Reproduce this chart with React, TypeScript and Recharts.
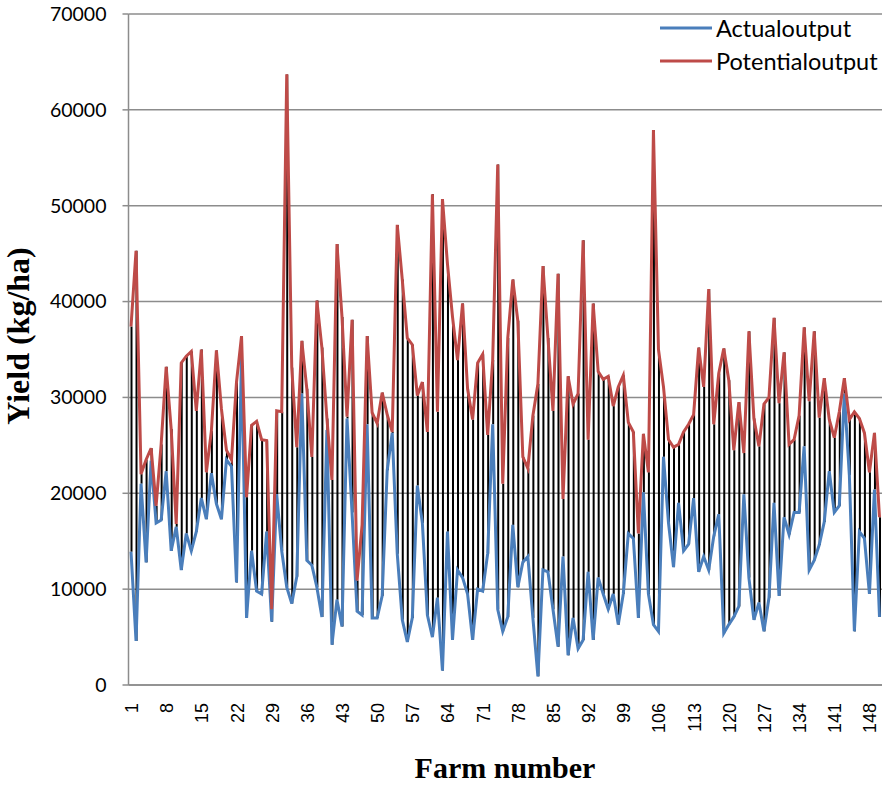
import { ComposedChart, Line, Bar, XAxis, YAxis, CartesianGrid, Legend, Label } from "recharts"

const actualOutput = [
  13900, 4600, 21000, 12800, 23400, 16900, 17200, 22300, 14000, 16500,
  12000, 15800, 14000, 16000, 19500, 17300, 22100, 18900, 17300, 23500,
  22800, 10700, 34100, 7000, 14000, 9800, 9500, 16000, 6600, 19900,
  14000, 10200, 8500, 11300, 30400, 13000, 12500, 10200, 7100, 26600,
  4200, 8900, 6100, 27800, 18000, 7700, 7300, 27200, 7000, 7000,
  9300, 22400, 26300, 13700, 6800, 4500, 7000, 20800, 16900, 7300,
  5000, 9100, 1500, 16000, 4700, 12000, 11200, 9500, 4700, 10000,
  9800, 13700, 27200, 7900, 5600, 7100, 16700, 10200, 12800, 13400,
  7000, 900, 12000, 11800, 7900, 4000, 13400, 3100, 7000, 3800,
  4700, 11800, 4700, 11200, 9500, 7900, 9500, 6300, 9500, 15800,
  15300, 7000, 20100, 9500, 6300, 5600, 23800, 16900, 12300, 19000,
  14000, 14700, 19500, 11800, 13400, 12000, 15500, 17800, 5400, 6300,
  7100, 8200, 19900, 11200, 6800, 8600, 5600, 9100, 19000, 9300,
  17500, 15700, 18000, 18000, 24900, 12000, 13000, 14600, 17000, 22300,
  18000, 18700, 30400, 21900, 5600, 16000, 15300, 9500, 20400, 7100,
]

const potentialOutput = [
  37400, 45300, 22000, 23500, 24700, 18700, 25100, 33200, 26700, 16800,
  33600, 34300, 34800, 28600, 35000, 22200, 26500, 34900, 28800, 24500,
  23500, 31600, 36400, 19600, 27100, 27500, 25600, 25500, 7900, 28600,
  28500, 63700, 33100, 24800, 35900, 30900, 23800, 40100, 35200, 27800,
  21400, 46000, 38400, 28000, 38100, 10900, 16700, 36400, 28400, 27300,
  30500, 28200, 26400, 48000, 42300, 36200, 35500, 30200, 31600, 26400,
  51200, 28500, 50700, 43900, 38400, 33900, 39800, 30900, 27700, 33600,
  34500, 26100, 33900, 54300, 21000, 36200, 42300, 38000, 23800, 22600,
  28100, 31400, 43700, 36200, 28600, 42900, 19400, 32200, 29300, 30400,
  46400, 25600, 39800, 32700, 31900, 32200, 29100, 31100, 32300, 27400,
  26400, 15800, 26200, 22200, 57900, 35000, 31100, 25600, 24800, 25100,
  26400, 27200, 28200, 35200, 31100, 41300, 27200, 32500, 35100, 31800,
  24500, 29500, 24200, 36900, 27800, 24900, 29300, 30000, 38300, 29400,
  34700, 25100, 25600, 28100, 37300, 29600, 36900, 27900, 32000, 27700,
  25800, 28500, 32000, 27700, 28500, 27800, 26300, 22200, 26300, 17500,
]

const farmNumbers = actualOutput.map((_, i) => String(i + 1))
const yTicks = [0, 10000, 20000, 30000, 40000, 50000, 60000, 70000]

const BLUE = "#4a7ebb"
const RED = "#be4b48"
const GRID = "#8c8c8c"
const SERIF = "'Liberation Serif', 'Times New Roman', serif"

const legendItems = [
  { label: "Actualoutput", color: BLUE },
  { label: "Potentialoutput", color: RED },
]

const data = farmNumbers.map((farm, i) => ({
  farm,
  actual: actualOutput[i],
  potential: potentialOutput[i],
  gap: [actualOutput[i], potentialOutput[i]],
}))

function FarmTick({ x, y, payload }: any) {
  return (
    <text
      transform={`translate(${x + 7},${y + 18}) rotate(-90)`}
      textAnchor="end"
      fontFamily="'Liberation Sans', Arial, sans-serif"
      fontSize={18}
      fill="#000"
    >
      {payload.value}
    </text>
  )
}

function LegendBox() {
  return (
    <div style={{ fontFamily: "Lato, sans-serif", fontSize: 23.5, color: "#000" }}>
      {legendItems.map((it) => (
        <div key={it.label} style={{ display: "flex", alignItems: "center", height: 33 }}>
          <svg width={52} height={4}>
            <line x1={0} x2={52} y1={2} y2={2} stroke={it.color} strokeWidth={3} />
          </svg>
          <span style={{ marginLeft: 4 }}>{it.label}</span>
        </div>
      ))}
    </div>
  )
}

export default function App() {
  return (
    <div style={{ position: "absolute", left: 0, top: 0, background: "#fff" }}>
      <ComposedChart
        width={886}
        height={787}
        data={data}
        margin={{ top: 14, right: 4, bottom: 0, left: 0 }}
      >
        <CartesianGrid vertical={false} stroke={GRID} strokeWidth={1.5} />
        <XAxis
          dataKey="farm"
          interval={6}
          height={102}
          tickSize={0}
          tickMargin={0}
          tick={(props: any) => <FarmTick {...props} />}
          axisLine={{ stroke: GRID, strokeWidth: 1.5 }}
          tickLine={false}
        >
          <Label
            content={() => (
              <text x={505} y={778} textAnchor="middle" fontFamily={SERIF} fontWeight="bold" fontSize={30} fill="#000">
                Farm number
              </text>
            )}
          />
        </XAxis>
        <YAxis
          width={128.5}
          domain={[0, 70000]}
          ticks={yTicks}
          interval={0}
          tickSize={6}
          tickMargin={16}
          tick={{ fontFamily: "Lato, sans-serif", fontSize: 19.5, fill: "#000" }}
          axisLine={{ stroke: GRID, strokeWidth: 1.5 }}
          tickLine={{ stroke: GRID, strokeWidth: 1.5 }}
        >
          <Label
            content={() => (
              <text
                transform="translate(29,336) rotate(-90)"
                textAnchor="middle"
                fontFamily={SERIF}
                fontWeight="bold"
                fontSize={32}
                fill="#000"
              >
                Yield (kg/ha)
              </text>
            )}
          />
        </YAxis>
        <Legend
          layout="horizontal"
          verticalAlign="middle"
          align="center"
          wrapperStyle={{ top: 11, left: 660, width: 226 }}
          content={<LegendBox />}
        />
        <Line
          type="linear"
          dataKey="actual"
          name="Actualoutput"
          stroke={BLUE}
          strokeWidth={3}
          dot={false}
          isAnimationActive={false}
        />
        <Line
          type="linear"
          dataKey="potential"
          name="Potentialoutput"
          stroke={RED}
          strokeWidth={3}
          dot={false}
          isAnimationActive={false}
        />
        <Bar dataKey="gap" barSize={2} fill="#000" legendType="none" isAnimationActive={false} />
      </ComposedChart>
    </div>
  )
}
